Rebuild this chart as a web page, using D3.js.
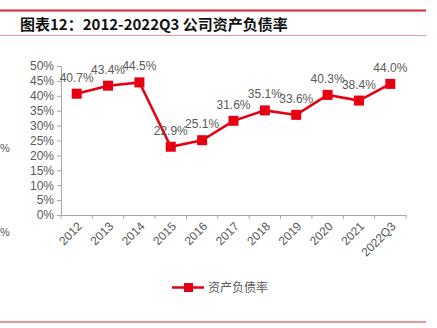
<!DOCTYPE html>
<html><head><meta charset="utf-8">
<script src="https://cdn.jsdelivr.net/npm/d3@7"></script>
<style>html,body{margin:0;padding:0;background:#fff;}svg{display:block;}</style>
</head><body>
<script>
const categories = ["2012","2013","2014","2015","2016","2017","2018","2019","2020","2021","2022Q3"];
const values = [40.7,43.4,44.5,22.9,25.1,31.6,35.1,33.6,40.3,38.4,44.0];
const yTicks = [0,5,10,15,20,25,30,35,40,45,50];
const seriesName = "资产负债率";
const title = "图表12：2012-2022Q3 公司资产负债率";

const W=437,H=328;
const red="#e60012", gray="#595959", axisGray="#a6a6a6";
const svg=d3.select("body").append("svg").attr("width",W).attr("height",H);
const font="'Liberation Sans', Arial, sans-serif";

// header lines
svg.append("line").attr("x1",0).attr("x2",426).attr("y1",10.5).attr("y2",10.5).attr("stroke","#d7282d").attr("stroke-width",2);
svg.append("text").attr("x",20).attr("y",30).attr("font-family","'Noto Sans CJK SC', sans-serif").attr("font-weight","bold").attr("font-size",15).attr("fill","#111").text(title);
svg.append("line").attr("x1",0).attr("x2",426).attr("y1",35.5).attr("y2",35.5).attr("stroke","#ef9a9a").attr("stroke-width",1.2);
svg.append("line").attr("x1",0).attr("x2",426).attr("y1",322).attr("y2",322).attr("stroke","#e57373").attr("stroke-width",1.5);

// stray labels at left edge
svg.append("text").attr("x",0).attr("y",152).attr("font-family",font).attr("font-size",11).attr("fill",gray).text("%");
svg.append("text").attr("x",0).attr("y",236).attr("font-family",font).attr("font-size",11).attr("fill",gray).text("%");

const x=d3.scaleBand().domain(categories).range([61,406]);
const y=d3.scaleLinear().domain([0,50]).range([215,66]);

// y axis
const yAxis=svg.append("g").attr("transform","translate(61,0)")
  .call(d3.axisLeft(y).tickValues(yTicks).tickFormat(d=>d+"%").tickSize(4).tickPadding(3));
yAxis.select(".domain").attr("stroke",axisGray);
yAxis.selectAll(".tick line").attr("stroke",axisGray);
yAxis.selectAll("text").attr("font-family",font).attr("font-size",12).attr("fill",gray);

// x axis
const xAxis=svg.append("g").attr("transform","translate(0,215)")
  .call(d3.axisBottom(x).tickSize(0).tickFormat(d=>d));
xAxis.select(".domain").attr("stroke",axisGray);
const bounds=categories.map(c=>x(c)).concat([x.range()[1]]);
xAxis.selectAll(".bt").data(bounds).enter().append("line").attr("class","bt")
  .attr("x1",d=>d).attr("x2",d=>d).attr("y1",0).attr("y2",4).attr("stroke",axisGray);
xAxis.selectAll(".tick text").attr("font-family",font).attr("font-size",12).attr("fill",gray)
  .attr("text-anchor","end").attr("dy",0).attr("dx",0)
  .attr("transform","translate(4,10) rotate(-45)");

const cx=d=>x(d)+x.bandwidth()/2;
const line=d3.line().x((d,i)=>cx(categories[i])).y(d=>y(d));
svg.append("path").datum(values).attr("d",line).attr("fill","none").attr("stroke",red).attr("stroke-width",2.5);
svg.selectAll(".pt").data(values).enter().append("rect")
  .attr("x",(d,i)=>cx(categories[i])-5).attr("y",d=>y(d)-5).attr("width",10).attr("height",10).attr("fill",red);
svg.selectAll(".lbl").data(values).enter().append("text")
  .attr("x",(d,i)=>cx(categories[i])).attr("y",d=>y(d)-12)
  .attr("text-anchor","middle").attr("font-family",font).attr("font-size",12).attr("fill",gray)
  .text(d=>d.toFixed(1)+"%");

// legend
svg.append("line").attr("x1",172).attr("x2",204).attr("y1",287.5).attr("y2",287.5).attr("stroke",red).attr("stroke-width",2.5);
svg.append("rect").attr("x",184).attr("y",283).attr("width",9).attr("height",9).attr("fill",red);
svg.append("text").attr("x",208).attr("y",292).attr("font-family","'Noto Sans CJK SC', sans-serif").attr("font-size",12).attr("fill",gray).text(seriesName);
</script>
</body></html>
